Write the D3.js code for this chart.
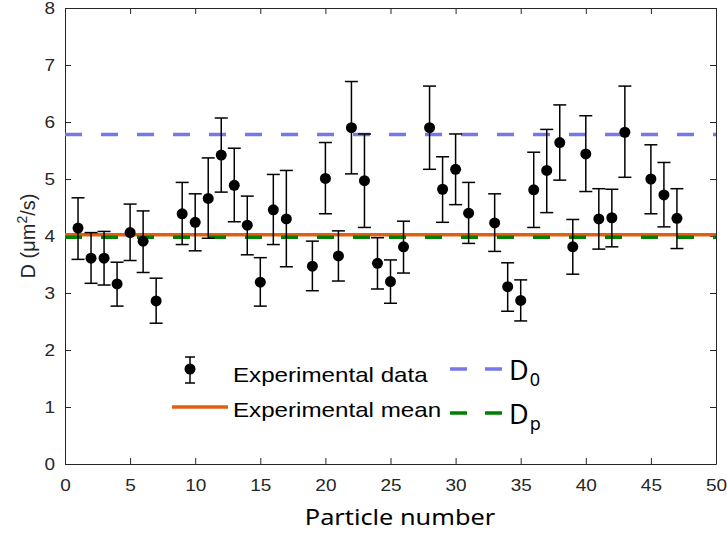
<!DOCTYPE html>
<html>
<head>
<meta charset="utf-8" />
<title>Diffusion coefficients</title>
<script src="https://d3js.org/d3.v7.min.js"></script>
<style>
  body { margin: 0; background: #fff; }
  svg { display: block; }
</style>
</head>
<body>
<svg id="chart" width="727" height="535"></svg>
<script>
// particle numbers (some particles missing)
var particles = [1, 2, 3, 4, 5, 6, 7, 9, 10, 11, 12, 13, 14, 15, 16, 17, 19, 20, 21, 22, 23, 24, 25, 26,
                 28, 29, 30, 31, 33, 34, 35, 36, 37, 38, 39, 40, 41, 42, 43, 45, 46, 47];
var dValues = [4.14, 3.61, 3.61, 3.16, 4.06, 3.91, 2.86, 4.39, 4.24, 4.66, 5.42, 4.89, 4.19, 3.19, 4.46, 4.30,
               3.47, 5.01, 3.65, 5.90, 4.97, 3.52, 3.20, 3.81, 5.90, 4.82, 5.17, 4.40, 4.23, 3.11, 2.87, 4.81,
               5.15, 5.64, 3.81, 5.44, 4.30, 4.32, 5.82, 5.00, 4.72, 4.31];
var errUpper = [4.67, 4.06, 4.08, 3.54, 4.56, 4.44, 3.26, 4.94, 4.74, 5.37, 6.07, 5.54, 4.70, 3.62, 5.08, 5.15,
                3.91, 5.64, 4.09, 6.71, 5.79, 3.97, 3.58, 4.26, 6.63, 5.39, 5.79, 4.94, 4.74, 3.53, 3.23, 5.47,
                5.87, 6.30, 4.29, 6.11, 4.83, 4.82, 6.63, 5.60, 5.29, 4.83];
var errLower = [3.59, 3.17, 3.14, 2.77, 3.57, 3.36, 2.47, 3.85, 3.74, 3.96, 4.77, 4.25, 3.67, 2.77, 3.85, 3.46,
                3.04, 4.39, 3.21, 5.09, 4.15, 3.07, 2.82, 3.35, 5.17, 4.24, 4.55, 3.87, 3.73, 2.68, 2.51, 4.15,
                4.41, 4.98, 3.33, 4.78, 3.77, 3.81, 5.03, 4.39, 4.16, 3.78];

var meanD = 4.02;   // experimental mean
var D0 = 5.78;
var Dp = 3.98;

var xTicks = [0, 5, 10, 15, 20, 25, 30, 35, 40, 45, 50];
var yTicks = [0, 1, 2, 3, 4, 5, 6, 7, 8];

var data = particles.map(function (p, i) {
    return { n: p, d: dValues[i], hi: errUpper[i], lo: errLower[i] };
});

var margin = { top: 8, right: 11, bottom: 71, left: 65 };
var width = 727 - margin.left - margin.right;
var height = 535 - margin.top - margin.bottom;

var svg = d3.select("#chart");
var g = svg.append("g").attr("transform", "translate(" + margin.left + "," + margin.top + ")");

var x = d3.scaleLinear().domain([0, 50]).range([0, width]);
var y = d3.scaleLinear().domain([0, 8]).range([height, 0]);

var axisColor = "#262626";
var tickFont = "'Liberation Sans', Arial, sans-serif";
var stretchK = 1.15;   // text in the figure is a bit wide

// widen text horizontally by k
function stretch(sel, k) {
    sel.each(function () {
        var w = this.getComputedTextLength();
        if (w > 0) {
            d3.select(this).attr("textLength", w * k).attr("lengthAdjust", "spacingAndGlyphs");
        }
    });
}

// axes (MATLAB style: ticks inside, box)
var xAxis = g.append("g").attr("transform", "translate(0," + height + ")")
    .call(d3.axisBottom(x).tickValues(xTicks).tickSizeInner(-6).tickSizeOuter(0).tickPadding(15));
var yAxis = g.append("g")
    .call(d3.axisLeft(y).tickValues(yTicks).tickSizeInner(-6).tickSizeOuter(0).tickPadding(10));
var xTop = g.append("g")
    .call(d3.axisTop(x).tickValues(xTicks).tickSizeInner(-6).tickSizeOuter(0).tickFormat(""));
var yRight = g.append("g").attr("transform", "translate(" + width + ",0)")
    .call(d3.axisRight(y).tickValues(yTicks).tickSizeInner(-6).tickSizeOuter(0).tickFormat(""));

[xAxis, yAxis, xTop, yRight].forEach(function (a) {
    a.selectAll("path, line").attr("stroke", axisColor).attr("stroke-width", 1);
    a.selectAll("text").attr("fill", axisColor).style("font-family", tickFont).style("font-size", "16.5px");
});
stretch(xAxis.selectAll("text"), stretchK);
stretch(yAxis.selectAll("text"), stretchK);

// reference lines
function hline(val, color, dash) {
    g.append("line")
        .attr("x1", x(0)).attr("x2", x(50))
        .attr("y1", y(val)).attr("y2", y(val))
        .attr("stroke", color).attr("stroke-width", 3.5)
        .attr("stroke-dasharray", dash);
}
hline(D0, "#7777e6", "17,19");
hline(meanD, "#e06010", null);
hline(Dp, "#008000", "17,19");

// error bars
var capW = 6.5;
var bars = g.append("g").selectAll("g.eb").data(data).enter().append("g").attr("class", "eb");
bars.append("line")
    .attr("x1", function (d) { return x(d.n); }).attr("x2", function (d) { return x(d.n); })
    .attr("y1", function (d) { return y(d.lo); }).attr("y2", function (d) { return y(d.hi); })
    .attr("stroke", "#000").attr("stroke-width", 1.5);
bars.append("line")
    .attr("x1", function (d) { return x(d.n) - capW; }).attr("x2", function (d) { return x(d.n) + capW; })
    .attr("y1", function (d) { return y(d.hi); }).attr("y2", function (d) { return y(d.hi); })
    .attr("stroke", "#000").attr("stroke-width", 1.5);
bars.append("line")
    .attr("x1", function (d) { return x(d.n) - capW; }).attr("x2", function (d) { return x(d.n) + capW; })
    .attr("y1", function (d) { return y(d.lo); }).attr("y2", function (d) { return y(d.lo); })
    .attr("stroke", "#000").attr("stroke-width", 1.5);
bars.append("circle")
    .attr("cx", function (d) { return x(d.n); })
    .attr("cy", function (d) { return y(d.d); })
    .attr("r", 5.5).attr("fill", "#000");

// axis labels
var xl = svg.append("text")
    .attr("x", 400).attr("y", 525)
    .attr("text-anchor", "middle")
    .style("font-family", "'Noto Sans', 'Open Sans', sans-serif").style("font-size", "22px")
    .attr("fill", "#000")
    .text("Particle number");
stretch(xl, stretchK);

var yl = svg.append("text")
    .attr("transform", "translate(35," + (margin.top + height / 2) + ") rotate(-90)")
    .attr("text-anchor", "middle")
    .style("font-family", tickFont).style("font-size", "20px")
    .attr("fill", axisColor);
yl.append("tspan").text("D (μm");
yl.append("tspan").attr("dy", -8).style("font-size", "14px").text("2");
yl.append("tspan").attr("dy", 8).text("/s)");

// legend
var leg = svg.append("g");
var legFont = "'Liberation Sans', Arial, sans-serif";
// errorbar symbol
leg.append("line").attr("x1", 190).attr("x2", 190).attr("y1", 357).attr("y2", 383)
    .attr("stroke", "#000").attr("stroke-width", 1.5);
leg.append("line").attr("x1", 185).attr("x2", 195).attr("y1", 357).attr("y2", 357)
    .attr("stroke", "#000").attr("stroke-width", 1.5);
leg.append("line").attr("x1", 185).attr("x2", 195).attr("y1", 383).attr("y2", 383)
    .attr("stroke", "#000").attr("stroke-width", 1.5);
leg.append("circle").attr("cx", 190).attr("cy", 369).attr("r", 5.5).attr("fill", "#000");
var ld = leg.append("text").attr("x", 233).attr("y", 382)
    .style("font-family", legFont).style("font-size", "21px").text("Experimental data");
stretch(ld, stretchK);

leg.append("line").attr("x1", 172).attr("x2", 228).attr("y1", 407).attr("y2", 407)
    .attr("stroke", "#e06010").attr("stroke-width", 3.5);
var lm = leg.append("text").attr("x", 233).attr("y", 417)
    .style("font-family", legFont).style("font-size", "21px").text("Experimental mean");
stretch(lm, stretchK);

leg.append("line").attr("x1", 450).attr("x2", 503).attr("y1", 369).attr("y2", 369)
    .attr("stroke", "#7777e6").attr("stroke-width", 3.5).attr("stroke-dasharray", "17,18");
leg.append("line").attr("x1", 450).attr("x2", 503).attr("y1", 413).attr("y2", 413)
    .attr("stroke", "#008000").attr("stroke-width", 3.5).attr("stroke-dasharray", "17,18");

function dLabel(yBase, sub) {
    var t = leg.append("text").attr("x", 509).attr("y", yBase)
        .style("font-family", "'Noto Sans', sans-serif").style("font-size", "27px");
    t.append("tspan").text("D");
    t.append("tspan").attr("dx", 1).attr("dy", 6).style("font-size", "18px").text(sub);
}
dLabel(380, "0");
dLabel(424, "p");
</script>
</body>
</html>
